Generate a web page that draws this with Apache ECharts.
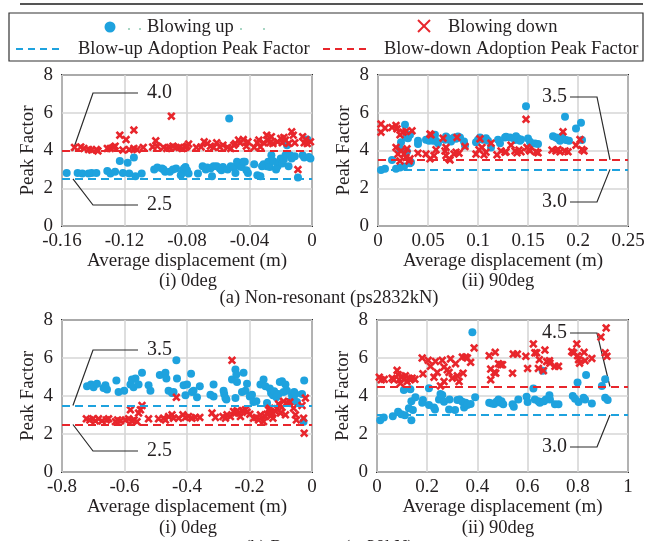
<!DOCTYPE html>
<html>
<head>
<meta charset="utf-8">
<script src="https://cdn.jsdelivr.net/npm/echarts@6/dist/echarts.min.js"></script>
<style>
html,body{margin:0;padding:0;background:#fff;}
#chart{width:656px;height:541px;}
</style>
</head>
<body>
<div id="chart"></div>
<script>
// ---------- data ----------
const panelTitles = ['(i) 0deg', '(ii) 90deg', '(i) 0deg', '(ii) 90deg'];
const groupTitles = ['(a) Non-resonant (ps2832kN)', '(b) Resonant (ps38kN)'];
const seriesNames = ['Blowing up', 'Blowing down'];
const lineNames = ['Blow-up Adoption Peak Factor', 'Blow-down Adoption Peak Factor'];
const yTicks = [0, 2, 4, 6, 8];
const xTicksTL = [-0.16, -0.12, -0.08, -0.04, 0];
const xTicksTR = [0, 0.05, 0.1, 0.15, 0.2, 0.25];
const xTicksBL = [-0.8, -0.6, -0.4, -0.2, 0];
const xTicksBR = [0, 0.2, 0.4, 0.6, 0.8, 1];
const adoptUp = [2.5, 3.0, 3.5, 3.0];
const adoptDown = [4.0, 3.5, 2.5, 4.5];
const adoptUpLabels = ['2.5', '3.0', '3.5', '3.0'];
const adoptDownLabels = ['4.0', '3.5', '2.5', '4.5'];

const blueTL = [[-0.157,2.81],[-0.150,2.81],[-0.147,2.78],[-0.143,2.78],[-0.141,2.81],[-0.138,2.81],[-0.131,2.92],[-0.129,2.78],[-0.126,2.87],[-0.123,3.45],[-0.121,2.81],[-0.118,3.35],[-0.117,2.78],[-0.114,3.63],[-0.113,2.64],[-0.109,2.78],[-0.101,2.99],[-0.099,3.10],[-0.096,3.04],[-0.095,2.99],[-0.094,2.87],[-0.091,2.87],[-0.089,2.99],[-0.087,3.04],[-0.084,2.69],[-0.083,2.81],[-0.082,3.04],[-0.081,3.13],[-0.080,2.96],[-0.079,2.78],[-0.073,2.78],[-0.070,3.17],[-0.068,2.99],[-0.067,3.10],[-0.065,3.04],[-0.064,2.64],[-0.063,3.17],[-0.061,3.17],[-0.059,3.04],[-0.058,2.96],[-0.057,3.13],[-0.054,2.99],[-0.053,5.70],[-0.052,3.17],[-0.050,3.10],[-0.049,2.81],[-0.048,3.40],[-0.047,3.31],[-0.046,3.17],[-0.045,3.13],[-0.044,3.40],[-0.043,3.40],[-0.042,2.96],[-0.041,2.81],[-0.037,3.27],[-0.035,2.69],[-0.033,2.64],[-0.032,3.17],[-0.031,3.27],[-0.029,3.17],[-0.028,3.40],[-0.027,3.13],[-0.026,3.75],[-0.025,3.45],[-0.023,2.99],[-0.022,3.17],[-0.021,3.40],[-0.020,3.58],[-0.019,3.31],[-0.018,3.52],[-0.017,3.75],[-0.016,4.28],[-0.015,3.17],[-0.014,3.75],[-0.013,3.58],[-0.011,3.70],[-0.009,2.57],[-0.006,3.75],[-0.005,3.63],[-0.003,4.58],[-0.002,3.66],[-0.001,3.58]];
const redTL = [[-0.152,4.16],[-0.148,4.19],[-0.146,4.11],[-0.143,4.05],[-0.141,4.02],[-0.138,4.05],[-0.137,3.98],[-0.131,4.11],[-0.129,4.11],[-0.127,4.16],[-0.126,4.23],[-0.123,4.81],[-0.121,4.02],[-0.119,4.58],[-0.117,4.05],[-0.114,5.08],[-0.114,4.11],[-0.112,4.05],[-0.108,4.16],[-0.102,4.19],[-0.100,4.51],[-0.099,4.23],[-0.095,4.16],[-0.093,4.11],[-0.091,4.16],[-0.090,5.82],[-0.089,4.23],[-0.087,4.16],[-0.085,4.16],[-0.083,4.11],[-0.081,4.16],[-0.080,4.23],[-0.079,4.34],[-0.074,4.16],[-0.071,4.19],[-0.069,4.46],[-0.067,4.37],[-0.065,4.23],[-0.063,4.16],[-0.061,4.41],[-0.059,4.19],[-0.057,4.28],[-0.054,4.16],[-0.052,4.11],[-0.050,4.28],[-0.049,4.37],[-0.047,4.55],[-0.046,4.41],[-0.044,4.58],[-0.042,4.23],[-0.041,4.46],[-0.037,4.16],[-0.035,4.41],[-0.034,4.55],[-0.033,4.19],[-0.031,4.41],[-0.029,4.81],[-0.028,4.55],[-0.027,4.41],[-0.026,4.73],[-0.025,4.37],[-0.022,4.46],[-0.020,4.64],[-0.019,4.41],[-0.018,4.69],[-0.017,4.55],[-0.015,4.37],[-0.013,4.99],[-0.012,4.81],[-0.011,4.41],[-0.009,2.99],[-0.006,4.73],[-0.005,4.41],[-0.004,4.58],[-0.003,4.37],[-0.001,4.46]];
const blueTR = [[0.003,2.97],[0.007,3.03],[0.014,3.50],[0.018,3.03],[0.022,3.10],[0.026,3.15],[0.022,4.09],[0.023,4.44],[0.027,5.36],[0.028,4.69],[0.030,4.65],[0.032,4.83],[0.029,3.95],[0.032,3.33],[0.033,3.38],[0.040,4.51],[0.040,4.34],[0.048,4.57],[0.051,4.51],[0.052,4.69],[0.055,4.51],[0.057,4.83],[0.058,4.51],[0.060,4.39],[0.067,4.57],[0.068,4.74],[0.070,4.65],[0.073,4.48],[0.076,4.69],[0.078,4.62],[0.080,4.74],[0.082,4.69],[0.086,4.48],[0.087,4.27],[0.098,4.44],[0.100,4.57],[0.102,4.69],[0.105,4.57],[0.108,4.65],[0.110,4.51],[0.113,4.16],[0.120,4.57],[0.122,4.39],[0.127,4.69],[0.128,4.73],[0.132,4.69],[0.137,4.55],[0.138,4.76],[0.140,4.64],[0.142,4.51],[0.143,4.58],[0.148,6.35],[0.150,4.64],[0.152,4.46],[0.153,4.37],[0.157,4.37],[0.160,4.34],[0.175,4.76],[0.178,4.69],[0.180,4.64],[0.182,4.51],[0.184,4.76],[0.187,5.79],[0.188,4.55],[0.191,4.51],[0.198,5.17],[0.203,5.47],[0.204,4.55]];
const redTR = [[0.003,5.40],[0.003,4.97],[0.007,5.19],[0.014,5.22],[0.018,5.33],[0.019,5.15],[0.022,4.83],[0.025,4.97],[0.028,5.01],[0.034,5.04],[0.018,4.16],[0.020,3.81],[0.022,3.45],[0.023,3.98],[0.026,3.81],[0.028,3.63],[0.029,4.09],[0.031,3.45],[0.032,3.56],[0.040,3.86],[0.048,3.81],[0.052,4.87],[0.053,4.83],[0.052,3.56],[0.056,3.73],[0.058,4.04],[0.065,4.65],[0.067,3.98],[0.068,4.16],[0.068,3.73],[0.071,3.56],[0.072,3.50],[0.076,3.81],[0.078,3.91],[0.079,4.69],[0.081,3.86],[0.087,4.21],[0.098,3.81],[0.101,4.04],[0.102,4.62],[0.104,4.16],[0.106,3.77],[0.108,3.91],[0.113,4.39],[0.119,3.77],[0.123,3.98],[0.127,3.91],[0.128,3.93],[0.133,4.28],[0.137,3.98],[0.139,3.88],[0.141,4.02],[0.143,3.93],[0.148,5.65],[0.149,4.16],[0.151,4.05],[0.152,3.98],[0.158,3.93],[0.160,3.88],[0.174,4.02],[0.178,3.98],[0.180,4.05],[0.182,3.93],[0.185,4.99],[0.187,3.98],[0.190,3.93],[0.198,4.28],[0.202,4.58],[0.204,4.05],[0.206,3.98]];
const blueBL = [[-0.720,4.51],[-0.707,4.60],[-0.699,4.46],[-0.688,4.64],[-0.667,4.42],[-0.661,4.57],[-0.656,4.34],[-0.626,4.81],[-0.619,4.21],[-0.601,4.28],[-0.581,4.60],[-0.576,4.87],[-0.571,4.46],[-0.565,4.92],[-0.555,4.60],[-0.544,5.22],[-0.523,4.57],[-0.517,4.28],[-0.487,5.10],[-0.469,5.22],[-0.466,4.92],[-0.459,4.28],[-0.448,4.16],[-0.443,4.21],[-0.434,5.88],[-0.432,4.92],[-0.411,4.57],[-0.405,4.04],[-0.400,4.60],[-0.387,5.17],[-0.384,4.21],[-0.379,4.28],[-0.368,3.93],[-0.359,4.51],[-0.325,4.07],[-0.315,4.60],[-0.315,3.98],[-0.283,4.28],[-0.281,4.11],[-0.277,3.89],[-0.274,3.81],[-0.256,4.87],[-0.245,5.40],[-0.242,5.13],[-0.240,4.74],[-0.245,3.89],[-0.224,4.21],[-0.219,5.22],[-0.213,4.28],[-0.208,4.64],[-0.199,3.98],[-0.192,4.07],[-0.187,3.68],[-0.178,3.72],[-0.165,4.60],[-0.155,4.87],[-0.149,4.51],[-0.144,3.63],[-0.135,4.39],[-0.131,4.16],[-0.125,4.04],[-0.121,4.25],[-0.114,3.93],[-0.107,4.11],[-0.103,4.74],[-0.096,4.78],[-0.091,4.21],[-0.085,4.60],[-0.080,4.28],[-0.069,3.72],[-0.064,4.04],[-0.059,3.93],[-0.057,4.21],[-0.053,4.11],[-0.048,3.68],[-0.032,4.11],[-0.027,2.65],[-0.025,4.81]];
const redBL = [[-0.722,2.80],[-0.711,2.74],[-0.701,2.80],[-0.693,2.69],[-0.683,2.80],[-0.672,2.69],[-0.658,2.74],[-0.651,2.80],[-0.629,2.65],[-0.622,2.74],[-0.613,2.69],[-0.597,2.74],[-0.587,2.80],[-0.581,3.27],[-0.576,2.69],[-0.569,2.74],[-0.560,2.65],[-0.555,3.10],[-0.549,3.27],[-0.544,3.50],[-0.523,2.80],[-0.491,2.80],[-0.475,2.83],[-0.469,2.74],[-0.459,2.92],[-0.448,3.01],[-0.443,2.83],[-0.434,3.93],[-0.427,2.83],[-0.413,3.01],[-0.405,2.87],[-0.395,2.92],[-0.384,2.83],[-0.373,2.87],[-0.359,2.87],[-0.320,3.10],[-0.309,2.87],[-0.285,2.92],[-0.277,2.83],[-0.272,3.01],[-0.261,2.92],[-0.256,5.88],[-0.251,3.19],[-0.245,3.10],[-0.240,3.22],[-0.235,3.10],[-0.229,2.92],[-0.221,3.22],[-0.213,3.27],[-0.208,3.15],[-0.199,3.04],[-0.187,2.83],[-0.178,2.87],[-0.171,2.74],[-0.165,3.01],[-0.155,2.65],[-0.149,2.92],[-0.144,3.04],[-0.139,3.27],[-0.135,3.36],[-0.131,3.15],[-0.128,3.01],[-0.125,2.83],[-0.117,3.19],[-0.112,3.33],[-0.107,3.58],[-0.101,3.10],[-0.096,3.40],[-0.091,3.72],[-0.085,3.01],[-0.080,3.63],[-0.071,3.68],[-0.059,3.36],[-0.053,3.01],[-0.050,2.74],[-0.032,3.50],[-0.027,2.83],[-0.025,2.04],[-0.021,3.89]];
const blueBR = [[0.013,2.73],[0.027,2.87],[0.063,2.94],[0.084,3.17],[0.097,3.04],[0.107,4.32],[0.111,2.99],[0.127,3.35],[0.133,4.35],[0.137,2.73],[0.137,3.73],[0.143,3.26],[0.153,3.93],[0.180,3.65],[0.183,3.79],[0.207,4.41],[0.207,3.52],[0.227,3.40],[0.231,3.29],[0.247,3.82],[0.253,4.11],[0.260,4.05],[0.267,3.70],[0.287,3.29],[0.289,3.82],[0.311,3.26],[0.320,3.79],[0.329,3.82],[0.340,3.70],[0.347,3.40],[0.353,3.65],[0.360,3.52],[0.373,3.58],[0.380,7.36],[0.391,3.93],[0.447,3.65],[0.457,3.61],[0.467,3.58],[0.476,3.70],[0.484,3.82],[0.493,3.65],[0.496,3.73],[0.503,3.56],[0.540,3.56],[0.545,3.43],[0.563,3.82],[0.596,3.96],[0.600,3.68],[0.623,4.39],[0.629,3.82],[0.643,3.73],[0.649,3.65],[0.660,5.33],[0.665,3.73],[0.673,3.82],[0.687,4.04],[0.689,3.82],[0.709,3.56],[0.723,3.56],[0.780,4.00],[0.789,3.86],[0.799,4.71],[0.803,3.68],[0.823,3.91],[0.829,3.82],[0.833,5.10],[0.856,3.61],[0.896,4.53],[0.909,4.88],[0.909,3.91],[0.919,3.79]];
const redBR = [[0.009,4.99],[0.017,4.85],[0.029,4.88],[0.060,4.94],[0.067,4.85],[0.080,5.35],[0.084,5.12],[0.089,4.85],[0.093,4.67],[0.100,5.03],[0.107,4.88],[0.113,5.06],[0.120,4.76],[0.127,4.94],[0.133,4.85],[0.140,4.94],[0.151,4.88],[0.180,6.00],[0.183,5.17],[0.204,5.88],[0.213,5.56],[0.227,4.99],[0.233,5.82],[0.240,5.24],[0.253,4.53],[0.260,5.88],[0.267,5.52],[0.267,4.76],[0.280,5.38],[0.287,5.24],[0.293,5.95],[0.300,4.94],[0.313,5.70],[0.320,5.06],[0.327,4.76],[0.340,6.05],[0.343,5.20],[0.353,6.05],[0.360,6.00],[0.373,5.77],[0.387,6.53],[0.447,6.12],[0.453,5.42],[0.453,4.85],[0.467,5.24],[0.471,6.30],[0.473,5.20],[0.484,5.70],[0.493,5.65],[0.500,5.65],[0.540,5.20],[0.543,6.21],[0.559,6.21],[0.593,6.09],[0.600,5.45],[0.623,6.74],[0.629,6.27],[0.636,6.27],[0.647,5.91],[0.643,5.45],[0.663,5.33],[0.669,6.42],[0.676,5.81],[0.687,5.86],[0.689,5.73],[0.709,5.56],[0.723,5.56],[0.776,6.34],[0.783,6.27],[0.796,6.74],[0.799,6.12],[0.803,5.91],[0.807,5.73],[0.825,6.30],[0.829,5.86],[0.856,5.98],[0.892,7.10],[0.913,7.58],[0.909,6.27],[0.916,6.09]];

// ---------- styling ----------
const FONT = '"Liberation Serif", "Times New Roman", serif';
const TXT = '#231f20';
const BLUE = '#1ea2de';
const RED = '#e8262c';
const FS = 19;
const FS_LEG = 18.5;
const X_PATH = 'path://M0,2.2L2.2,0L5,2.8L7.8,0L10,2.2L7.2,5L10,7.8L7.8,10L5,7.2L2.2,10L0,7.8L2.8,5Z';

const blues = [blueTL, blueTR, blueBL, blueBR];
const reds = [redTL, redTR, redBL, redBR];
const xTickSets = [xTicksTL, xTicksTR, xTicksBL, xTicksBR];
const gridBoxes = [
  {left: 62, top: 75, width: 250, height: 151},
  {left: 378, top: 75, width: 250, height: 151},
  {left: 62, top: 320, width: 250, height: 152},
  {left: 377, top: 320, width: 251, height: 152}
];

function fmt(v) { return String(Math.round(v * 1000) / 1000); }

const grid = gridBoxes.map(g => Object.assign({show: true, borderColor: '#2b2b2b', borderWidth: 2, backgroundColor: 'transparent'}, g));
const xAxis = xTickSets.map((t, i) => ({
  type: 'value', gridIndex: i, min: t[0], max: t[t.length - 1], interval: t[1] - t[0],
  name: 'Average displacement (m)', nameLocation: 'middle', nameGap: 25,
  nameTextStyle: {fontFamily: FONT, fontSize: FS, color: TXT},
  axisLine: {show: false}, axisTick: {show: false},
  axisLabel: {fontFamily: FONT, fontSize: FS, color: TXT, margin: 6, showMinLabel: true, showMaxLabel: true, formatter: fmt},
  splitLine: {show: true, lineStyle: {color: '#d6d6d6', width: 1.6}}
}));
const yAxis = gridBoxes.map((g, i) => ({
  type: 'value', gridIndex: i, min: yTicks[0], max: yTicks[yTicks.length - 1], interval: yTicks[1] - yTicks[0],
  name: 'Peak Factor', nameLocation: 'middle', nameGap: 24,
  nameTextStyle: {fontFamily: FONT, fontSize: FS, color: TXT},
  axisLine: {show: false}, axisTick: {show: false},
  axisLabel: {fontFamily: FONT, fontSize: FS, color: TXT, margin: 9, formatter: fmt},
  splitLine: {show: true, lineStyle: {color: '#d6d6d6', width: 1.6}}
}));

const series = [];
for (let i = 0; i < 4; i++) {
  series.push({
    type: 'scatter', xAxisIndex: i, yAxisIndex: i, data: [], z: 1, silent: true,
    markLine: {
      symbol: 'none', silent: true, animation: false, label: {show: false},
      data: [
        {yAxis: adoptUp[i], lineStyle: {color: BLUE, type: [8, 5], width: 2}},
        {yAxis: adoptDown[i], lineStyle: {color: RED, type: [8, 5], width: 2}}
      ]
    }
  });
  series.push({
    name: seriesNames[0], type: 'scatter', xAxisIndex: i, yAxisIndex: i, z: 2,
    data: blues[i], symbol: 'circle', symbolSize: 8, itemStyle: {color: BLUE, opacity: 1}
  });
  series.push({
    name: seriesNames[1], type: 'scatter', xAxisIndex: i, yAxisIndex: i, z: 3,
    data: reds[i], symbol: X_PATH, symbolSize: 8.5, itemStyle: {color: RED, opacity: 1}
  });
}

const chart = echarts.init(document.getElementById('chart'), null, {renderer: 'canvas'});
chart.setOption({animation: false, grid, xAxis, yAxis, series});

// ---------- decorations (legend, captions, leader annotations) ----------
function txt(text, x, y, align, size) {
  return {type: 'text', silent: true, style: {text, x, y, fill: TXT, font: (size || FS_LEG) + 'px ' + FONT, textAlign: align || 'left', textVerticalAlign: 'middle'}};
}
function line(x1, y1, x2, y2, color, w, dash) {
  return {type: 'line', silent: true, shape: {x1, y1, x2, y2}, style: {stroke: color, lineWidth: w, lineDash: dash || null}};
}
const g = [];
g.push(line(20, 4, 643, 4, '#555', 2));
g.push({type: 'rect', silent: true, shape: {x: 9, y: 13, width: 634, height: 48}, style: {fill: 'none', stroke: '#333', lineWidth: 1.2}});
g.push({type: 'circle', silent: true, shape: {cx: 110, cy: 27, r: 5.5}, style: {fill: BLUE}});
[129, 140, 241, 264].forEach(x => g.push({type: 'circle', silent: true, shape: {cx: x, cy: 29, r: 0.8}, style: {fill: '#3aa37a'}}));
g.push(txt(seriesNames[0], 147, 27, 'left'));
g.push(line(418, 20, 430, 32, RED, 2));
g.push(line(430, 20, 418, 32, RED, 2));
g.push(txt(seriesNames[1], 448, 27, 'left'));
g.push(line(16, 49, 63, 49, BLUE, 2, [7, 5]));
g.push(txt(lineNames[0], 78, 49, 'left'));
g.push(line(323, 49, 371, 49, RED, 2, [7, 5]));
g.push(txt(lineNames[1], 384, 49, 'left'));

// captions
g.push(txt(panelTitles[0], 188, 281, 'center'));
g.push(txt(panelTitles[1], 498, 281, 'center'));
g.push(txt(groupTitles[0], 329, 298, 'center'));
g.push(txt(panelTitles[2], 188, 528, 'center'));
g.push(txt(panelTitles[3], 498, 528, 'center'));
g.push(txt(groupTitles[1], 329, 548, 'center'));

// leader annotations: [gridIndex, value, label, textY, side]
const anchorsX = [-0.153, 0.232, -0.765, 0.928];
const notes = [
  [0, adoptDown[0], adoptDownLabels[0], 93, 'L'],
  [0, adoptUp[0], adoptUpLabels[0], 205, 'L'],
  [1, adoptDown[1], adoptDownLabels[1], 97, 'R'],
  [1, adoptUp[1], adoptUpLabels[1], 202, 'R'],
  [2, adoptUp[2], adoptUpLabels[2], 350, 'L'],
  [2, adoptDown[2], adoptDownLabels[2], 451, 'L'],
  [3, adoptDown[3], adoptDownLabels[3], 333, 'R'],
  [3, adoptUp[3], adoptUpLabels[3], 447, 'R']
];
notes.forEach(n => {
  const p = chart.convertToPixel({gridIndex: n[0]}, [anchorsX[n[0]], n[1]]);
  const ty = n[3];
  let pts, tx;
  if (n[4] === 'L') { pts = [[138, ty], [93, ty], p]; tx = 147; }
  else { pts = [[570, ty], [597, ty], p]; tx = 542; }
  g.push({type: 'polyline', silent: true, shape: {points: pts}, style: {stroke: '#2b2b2b', lineWidth: 1.2, fill: null}});
  g.push(txt(n[2], tx, ty, 'left', 20));
});
chart.setOption({graphic: g});
</script>
</body>
</html>
